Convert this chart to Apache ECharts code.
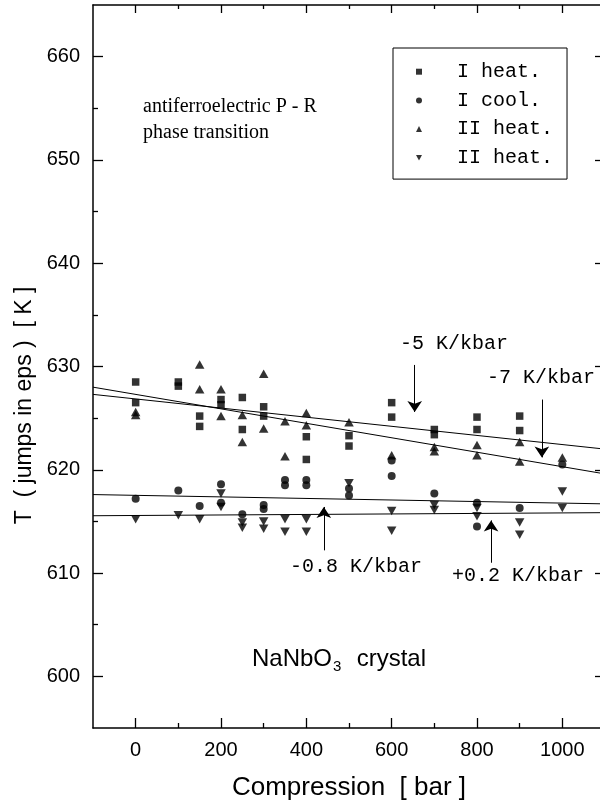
<!DOCTYPE html>
<html><head><meta charset="utf-8">
<script src="https://cdn.jsdelivr.net/npm/echarts@6/dist/echarts.min.js"></script>
<style>html,body{margin:0;padding:0;background:#fff}#c{width:600px;height:803px}</style>
</head><body><div id="c"></div>
<script>
// ---- tick values ----
const xMajorTicks = [0, 200, 400, 600, 800, 1000];
const xMinorTicks = [100, 300, 500, 700, 900];
const yMajorTicks = [600, 610, 620, 630, 640, 650, 660];
const yMinorTicks = [605, 615, 625, 635, 645, 655];

// ---- series names ----
const seriesNames = ['I heat.', 'I cool.', 'II heat.', 'II heat. '];

// ---- data [pressure bar, T K] ----
const iHeat = [[0,628.5],[0,626.5],[100,628.5],[100,628.1],[150,625.2],[150,624.2],[200,626.8],[200,626.3],
  [250,627.0],[250,623.9],[300,626.1],[300,625.2],[400,623.2],[400,621.0],[500,623.3],[500,622.3],
  [600,626.5],[600,625.1],[700,623.9],[700,623.4],[800,625.1],[800,623.9],[900,625.2],[900,623.8]];
const iCool = [[0,617.2],[100,618.0],[150,616.5],[200,618.6],[200,616.8],[250,615.7],[300,616.6],[300,616.2],
  [350,619.0],[350,618.5],[400,619.0],[400,618.5],[500,618.2],[500,617.5],[600,620.9],[600,619.4],
  [700,617.7],[800,616.8],[800,614.5],[900,616.3],[1000,620.5]];
const iiHeatUp = [[0,625.6],[0,625.3],[150,630.2],[150,627.8],[200,627.8],[200,625.2],[250,625.3],[250,622.7],
  [300,629.3],[300,624.0],[350,624.7],[350,621.3],[400,625.5],[400,624.3],[500,624.6],[600,621.4],
  [700,622.2],[700,621.8],[800,622.4],[800,621.4],[900,622.7],[900,620.8],[1000,621.2]];
const iiHeatDown = [[0,615.2],[100,615.6],[150,615.2],[200,617.7],[200,616.4],[250,614.9],[250,614.4],
  [300,615.0],[300,614.3],[350,615.2],[350,614.0],[400,615.2],[400,614.0],[500,618.7],[600,616.0],[600,614.1],
  [700,616.6],[700,616.1],[800,616.3],[800,615.5],[900,614.9],[900,613.7],[1000,617.9],[1000,616.3]];

// ---- fitted lines ----
const fitMinus7 = [[-100,628.0],[1100,619.6]];
const fitMinus5 = [[-100,627.3],[1100,622.0]];
const fitMinus08 = [[-100,617.6],[1100,616.7]];
const fitPlus02 = [[-100,615.55],[1100,615.85]];

// ---- annotation arrows [from, to] in data coords ----
const arrowMinus5 = [[654,630.15],[654,625.6]];
const arrowMinus7 = [[952,626.8],[952,621.2]];
const arrowMinus08 = [[441,612.2],[441,616.4]];
const arrowPlus02 = [[833,611.0],[833,615.1]];

const annoLabels = ['-5 K/kbar', '-7 K/kbar', '-0.8 K/kbar', '+0.2 K/kbar'];

const chart = echarts.init(document.getElementById('c'));
const sans = '"Liberation Sans", Arial, sans-serif';
const mono = '"Liberation Mono", "Courier New", monospace';
const serif = '"Liberation Serif", "Times New Roman", serif';
const black = '#000';
const X = {min: -100, max: 1100};
const Y = {min: 595, max: 665};

function aux(base, extra) { return Object.assign({type: 'value', splitLine: {show: false}}, base, extra); }
function line(show) { return {show: show, onZero: false, lineStyle: {color: black, width: 1.5}}; }
function ticks(len, vals) { return {show: true, inside: true, length: len, customValues: vals, lineStyle: {color: black, width: 1.3}}; }

const xAxes = [
  aux(X, {position: 'bottom', axisLine: line(true), axisTick: ticks(10, xMajorTicks),
    axisLabel: {show: true, customValues: xMajorTicks, margin: 12, color: black, fontSize: 20, fontFamily: sans, formatter: v => String(v)},
    name: 'Compression  [ bar ]', nameLocation: 'middle', nameGap: 47,
    nameTextStyle: {color: black, fontSize: 26, fontFamily: sans}}),
  aux(X, {position: 'bottom', axisLine: line(false), axisTick: ticks(5, xMinorTicks), axisLabel: {show: false}}),
  aux(X, {position: 'top', axisLine: line(true), axisTick: ticks(8, xMajorTicks), axisLabel: {show: false}}),
  aux(X, {position: 'top', axisLine: line(false), axisTick: ticks(4, xMinorTicks), axisLabel: {show: false}})
];
const yAxes = [
  aux(Y, {position: 'left', axisLine: line(true), axisTick: ticks(10, yMajorTicks),
    axisLabel: {show: true, customValues: yMajorTicks, margin: 13, color: black, fontSize: 20, fontFamily: sans, formatter: v => String(v)},
    name: 'T  ( jumps in eps )  [ K ]', nameLocation: 'middle', nameGap: 38, nameRotate: 90,
    nameTextStyle: {color: black, fontSize: 23, fontFamily: sans, padding: [0, 78, 0, 0]}}),
  aux(Y, {position: 'left', axisLine: line(false), axisTick: ticks(5, yMinorTicks), axisLabel: {show: false}}),
  aux(Y, {position: 'right', axisLine: line(true), axisTick: ticks(10, yMajorTicks), axisLabel: {show: false}}),
  aux(Y, {position: 'right', axisLine: line(false), axisTick: ticks(5, yMinorTicks), axisLabel: {show: false}})
];

function fitLine(data) {
  return {type: 'line', data: data, showSymbol: false, symbol: 'none', silent: true,
    lineStyle: {color: black, width: 1}, z: 1};
}
function arrow(coords) { return {coords: coords}; }
const downTri = 'path://M0,0L10,0L5,9Z';

// measure text for sub-script layout
const ctx = document.createElement('canvas').getContext('2d');
const crysFont = 24;
ctx.font = crysFont + 'px "Liberation Sans"';
const wNa = ctx.measureText('NaNbO').width;
ctx.font = '15px "Liberation Sans"';
const w3 = ctx.measureText('3').width;
const crysLeft = 252, crysY = 660;

chart.setOption({
  animation: false,
  backgroundColor: '#fff',
  grid: {left: 93, top: 5, width: 512, height: 723, containLabel: false, outerBoundsMode: 'none'},
  xAxis: xAxes,
  yAxis: yAxes,
  legend: {
    orient: 'vertical', left: 393, top: 48,
    padding: [13.7, 14, 11.3, 23], itemGap: 8.7, itemWidth: 6, itemHeight: 6,
    borderColor: black, borderWidth: 1, selectedMode: false,
    formatter: n => n.trim(),
    textStyle: {fontFamily: mono, fontSize: 20, lineHeight: 20, color: black, padding: [0, 0, 0, 30]},
    data: [
      {name: seriesNames[0], icon: 'rect'},
      {name: seriesNames[1], icon: 'circle'},
      {name: seriesNames[2], icon: 'triangle'},
      {name: seriesNames[3], icon: downTri}
    ]
  },
  series: [
    {name: seriesNames[0], type: 'scatter', symbol: 'rect', symbolSize: 7.5, data: iHeat, itemStyle: {color: black}, z: 3},
    {name: seriesNames[1], type: 'scatter', symbol: 'circle', symbolSize: 8, data: iCool, itemStyle: {color: black}, z: 3},
    {name: seriesNames[2], type: 'scatter', symbol: 'triangle', symbolSize: [9.5, 8.5], data: iiHeatUp, itemStyle: {color: black}, z: 3},
    {name: seriesNames[3], type: 'scatter', symbol: downTri, symbolSize: [9.5, 8.5], data: iiHeatDown, itemStyle: {color: black}, z: 3},
    fitLine(fitMinus7), fitLine(fitMinus5), fitLine(fitMinus08), fitLine(fitPlus02),
    {type: 'lines', coordinateSystem: 'cartesian2d', silent: true, symbol: ['none', 'arrow'], symbolSize: [7, 11],
      lineStyle: {color: black, width: 1, opacity: 1},
      data: [arrow(arrowMinus5), arrow(arrowMinus7), arrow(arrowMinus08), arrow(arrowPlus02)]}
  ],
  graphic: [
    {type: 'text', left: 143, top: 94, style: {text: 'antiferroelectric P - R\nphase transition', font: '20px ' + serif, fill: black, lineHeight: 26}},
    {type: 'text', left: 400, top: 334, style: {text: annoLabels[0], font: '20px ' + mono, fill: black}},
    {type: 'text', left: 487, top: 368, style: {text: annoLabels[1], font: '20px ' + mono, fill: black}},
    {type: 'text', left: 290, top: 557, style: {text: annoLabels[2], font: '20px ' + mono, fill: black}},
    {type: 'text', left: 452, top: 566, style: {text: annoLabels[3], font: '20px ' + mono, fill: black}},
    {type: 'text', left: crysLeft, top: crysY - 13, style: {text: 'NaNbO', font: crysFont + 'px ' + sans, fill: black}},
    {type: 'text', left: crysLeft + wNa + 1, top: crysY - 1, style: {text: '3', font: '15px ' + sans, fill: black}},
    {type: 'text', left: crysLeft + wNa + w3 + 3, top: crysY - 13, style: {text: '  crystal', font: crysFont + 'px ' + sans, fill: black}}
  ]
});
</script></body></html>
